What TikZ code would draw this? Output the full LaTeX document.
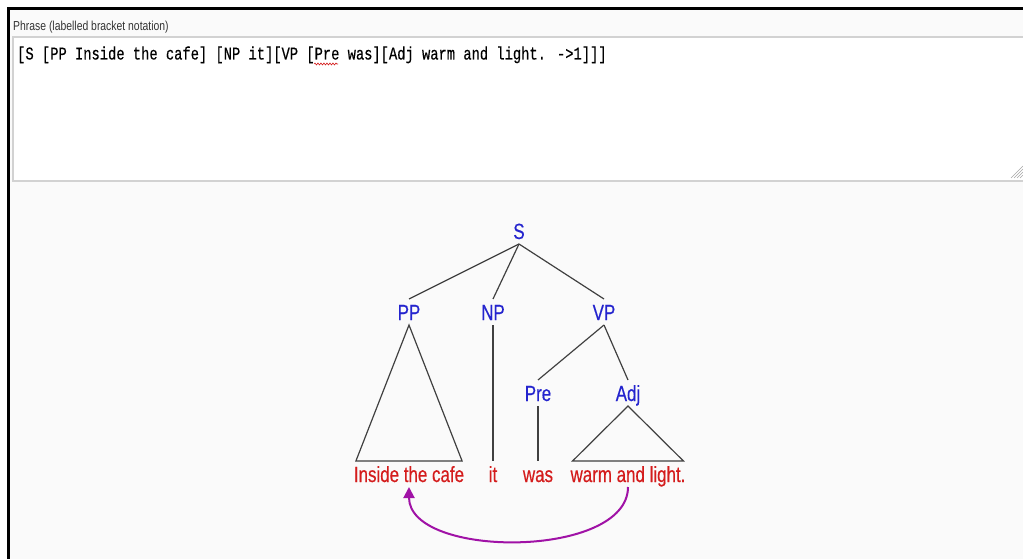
\documentclass[tikz,border=0pt]{standalone}
\usepackage{fontspec}
\setmainfont{Liberation Sans}
\newfontfamily\treefont[FakeStretch=0.77,FakeBold=0.4]{Liberation Sans}
\newfontfamily\captionfont[FakeStretch=0.8]{Liberation Sans}
\newfontfamily\codefont[FakeStretch=0.765,FakeBold=0.3]{Liberation Mono}
\usepackage{tikz}
\usetikzlibrary{arrows.meta,decorations.pathmorphing}
\definecolor{catblue}{HTML}{2424CE}
\definecolor{leafred}{HTML}{D41C1C}
\definecolor{movepurple}{HTML}{A012A6}
\definecolor{branchgray}{HTML}{404040}
\definecolor{panelgray}{HTML}{FAFAFA}
\definecolor{boxgray}{HTML}{D2D2D2}

\begin{document}
\begin{tikzpicture}[x=1pt,y=-1pt,
    cat/.style    = {font=\treefont\fontsize{22pt}{22pt}\selectfont,text=catblue,
                     text height=16pt,text depth=0pt,inner sep=0pt,
                     outer xsep=0pt,outer ysep=5pt},
    leaf/.style   = {cat,text=leafred,outer xsep=-2pt},
    branch/.style = {branchgray,line width=1.2pt},
    move/.style   = {movepurple,line width=2pt,-{Triangle[length=11pt,width=11pt]}},
    code/.style   = {font=\codefont\fontsize{18pt}{18pt}\selectfont,inner sep=0pt},
    fieldcap/.style = {font=\captionfont\fontsize{13pt}{13pt}\selectfont,text=black!80,inner sep=0pt},
  ]
  \useasboundingbox (0,0) rectangle (1023,559);

  % ── Fond et cadre ─────────────────────────────────────────────────────────
  \fill[white] (0,0) rectangle (1023,559);
  \fill[panelgray] (9,8) rectangle (1023,559);
  \draw[black,line width=3pt] (8.5,559) -- (8.5,8.5) -- (1023,8.5);

  % ── Zone de saisie ────────────────────────────────────────────────────────
  \node[fieldcap,anchor=base west] (caption) at (13,31) {Phrase (labelled bracket notation)};
  \fill[white] (13,37) rectangle (1023,181);
  \draw[boxgray,line width=1.5pt] (1023,37) -- (13,37) -- (13,181) -- (1023,181);
  \node[code,anchor=base west] (bracket) at (17,59.5)
       {[S [PP Inside the cafe] [NP it][VP [Pre was][Adj warm and light. ->1]]]};
  \draw[leafred,line width=0.6pt,decorate,
        decoration={snake,amplitude=1pt,segment length=3pt}] (314,64) -- (338,64);
  \foreach \d in {0,3,6,9}
    \draw[gray!70,line width=0.6pt] (1011+\d,178) -- (1023,166+\d);

  % ── Catégories ────────────────────────────────────────────────────────────
  \node[cat] (S)   at (519,231) {S};
  \node[cat] (PP)  at (409,312) {PP};
  \node[cat] (NP)  at (493,312) {NP};
  \node[cat] (VP)  at (604,312) {VP};
  \node[cat] (Pre) at (538,393) {Pre};
  \node[cat] (Adj) at (628,393) {Adj};

  % ── Mots ──────────────────────────────────────────────────────────────────
  \node[leaf] (cafe) at (409,474) {Inside the cafe};
  \node[leaf] (it)   at (493,474) {it};
  \node[leaf] (was)  at (538,474) {was};
  \node[leaf] (warm) at (628,474) {warm and light.};

  % ── Branches ──────────────────────────────────────────────────────────────
  \foreach \c in {PP,NP,VP}
    \draw[branch] (S.south) -- (\c.north);
  \foreach \c in {Pre,Adj}
    \draw[branch] (VP.south) -- (\c.north);
  \draw[branch] (NP.south) -- (it.north);
  \draw[branch] (Pre.south) -- (was.north);
  \draw[branch] (PP.south) -- (cafe.north west) -- (cafe.north east) -- cycle;
  \draw[branch] (Adj.south) -- (warm.north west) -- (warm.north east) -- cycle;

  % ── Déplacement ───────────────────────────────────────────────────────────
  \draw[move] (warm.south) .. controls +(0,72) and +(0,72) .. (cafe.south);

\end{tikzpicture}
\end{document}
